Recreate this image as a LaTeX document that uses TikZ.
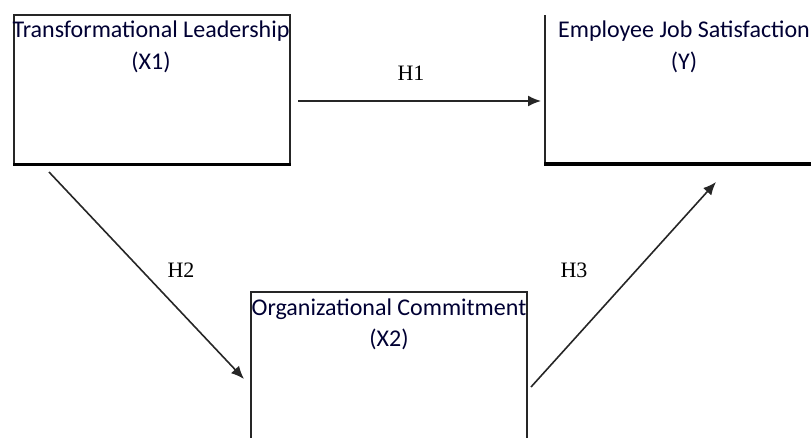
\documentclass[tikz,border=0pt]{standalone}
\usepackage{fontspec}
\setmainfont{Carlito}
\newfontfamily\hypfont{Liberation Serif}
\usetikzlibrary{arrows.meta}
\begin{document}
\begin{tikzpicture}[x=1pt,y=-1pt,
  frame/.style={draw=black!85,line width=1.6pt},
  heavy/.style={draw=black,line width=3.6pt},
  boxtext/.style={font=\fontsize{24}{30}\selectfont,text=black!80!blue,inner sep=0pt,anchor=center},
  hyp/.style={font=\hypfont\fontsize{22}{24}\selectfont,inner sep=0pt,anchor=center},
  link/.style={draw=black!85,line width=1.6pt,-{Latex[length=13pt,width=11pt]}}]
\useasboundingbox (0,0) rectangle (811,437);
\clip (0,0) rectangle (811,437);

% Transformational Leadership box
\node[frame,minimum width=276pt,minimum height=149pt,inner sep=0pt,anchor=north west] (tl) at (13,14) {};
\draw[heavy] (tl.south west) -- (tl.south east);
\node[boxtext] (tlname) at (151,31) {Transformational Leadership};
\node[boxtext] (tlvar) at (151,62) {(X1)};

% Employee Job Satisfaction box (open to the top and right)
\coordinate (js) at (545,15);
\coordinate (jsbl) at (545,164);
\coordinate (jsbr) at (815,164);
\draw[frame] (js) -- (jsbl);
\draw[heavy] ([xshift=-1pt]jsbl) -- (jsbr);
\node[boxtext] (jsname) at (684,31) {Employee Job Satisfaction};
\node[boxtext] (jsvar) at (684,62) {(Y)};

% Organizational Commitment box (runs past the lower edge)
\coordinate (octl) at (251,292);
\coordinate (octr) at (527,292);
\draw[frame] (251,440) -- (octl) -- (octr) -- (527,440);
\node[boxtext] (ocname) at (389,309) {Organizational Commitment};
\node[boxtext] (ocvar) at (389,339) {(X2)};

% Hypothesised paths
\coordinate (h1s) at (298,101);
\coordinate (h1e) at (541,101);
\coordinate (h2s) at (49,172);
\coordinate (h2e) at (244,379);
\coordinate (h3s) at (531,387);
\coordinate (h3e) at (716,182);
\draw[link] (h1s) -- (h1e);
\draw[link] (h2s) -- (h2e);
\draw[link] (h3s) -- (h3e);
\node[hyp] (h1) at (411,73) {H1};
\node[hyp] (h2) at (181,270) {H2};
\node[hyp] (h3) at (574,270) {H3};
\end{tikzpicture}
\end{document}
